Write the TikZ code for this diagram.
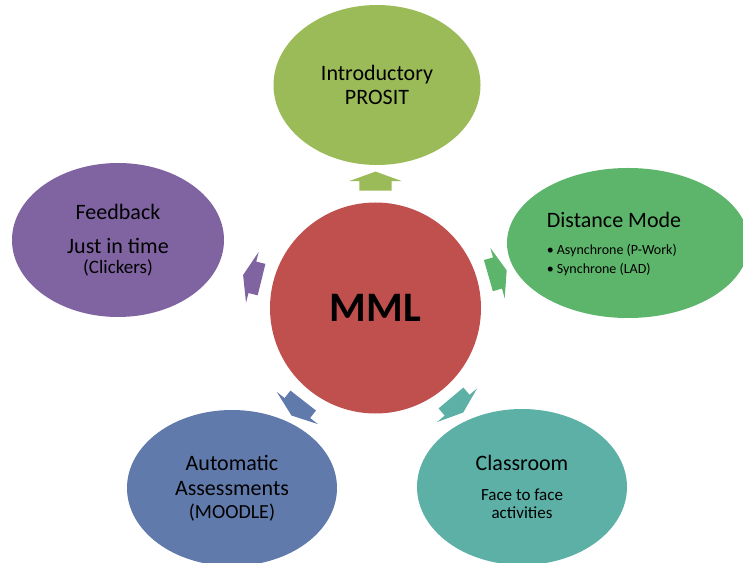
\documentclass[tikz,border=0pt]{standalone}
\usepackage{fontspec}
\setmainfont{Carlito}
\usetikzlibrary{shapes.geometric}
\usetikzlibrary{shapes.arrows}
\usetikzlibrary{calc}

\definecolor{mmlred}{HTML}{C0504D}
\definecolor{introgreen}{HTML}{9BBB59}
\definecolor{distgreen}{HTML}{5CB56A}
\definecolor{classteal}{HTML}{5DB0A6}
\definecolor{autoblue}{HTML}{607AAB}
\definecolor{feedpurple}{HTML}{8064A2}

\tikzset{
  bubble/.style={ellipse, draw=none, inner sep=0pt, align=center, font=\fontsize{22}{24}\selectfont},
  spoke/.style={single arrow, draw=none, inner xsep=0pt, inner ysep=16pt, text height=0pt, text depth=0pt,
    minimum height=19pt, single arrow head extend=10pt, single arrow tip angle=140}
}

\begin{document}
\begin{tikzpicture}[x=1pt, y=1pt]
        \useasboundingbox (0,0) rectangle (743,562);

        \node[circle, fill=mmlred, minimum size=211pt, inner sep=0pt, font=\fontsize{42}{44}\selectfont\bfseries] (mml) at (375.5,254) {MML};

        \node[bubble, fill=introgreen, minimum width=207pt, minimum height=160pt] (intro) at (377,477) {Introductory\\PROSIT};
        \node[bubble, fill=distgreen, minimum width=242pt, minimum height=150pt] (dist) at (628,319) {};
        \node[align=left, inner sep=0pt, font=\fontsize{22}{24}\selectfont] (disttext) at ([xshift=-14pt, yshift=-1pt]dist.center)
          {Distance Mode\\[3pt]
           {\fontsize{14}{16}\selectfont\makebox[10pt][l]{•}Asynchrone (P-Work)}\\[-5pt]
           {\fontsize{14}{16}\selectfont\makebox[10pt][l]{•}Synchrone (LAD)}};
        \node[bubble, fill=classteal, minimum width=210pt, minimum height=156pt] (class) at (522,75)
          {Classroom\\[6pt]{\fontsize{17}{18}\selectfont Face to face}\\[-6pt]{\fontsize{17}{18}\selectfont activities}};
        \node[bubble, fill=autoblue, minimum width=210pt, minimum height=156pt] (auto) at (232,74)
          {Automatic\\[1pt]Assessments\\[-1pt]{\fontsize{20}{22}\selectfont (MOODLE)}};
        \node[bubble, fill=feedpurple, minimum width=212pt, minimum height=154pt] (feed) at (118,322)
          {Feedback\\[10pt]Just in time\\[-4pt]{\fontsize{19}{20}\selectfont (Clickers)}};

        % block arrows round the centre
        \foreach \ang/\col in {90/introgreen, 16/distgreen, 310/classteal, 232/autoblue, 166/feedpurple}
          \node[spoke, fill=\col, rotate=\ang] (arr\ang) at ($(mml)+(\ang:124)$) {};

      \end{tikzpicture}
\end{document}
